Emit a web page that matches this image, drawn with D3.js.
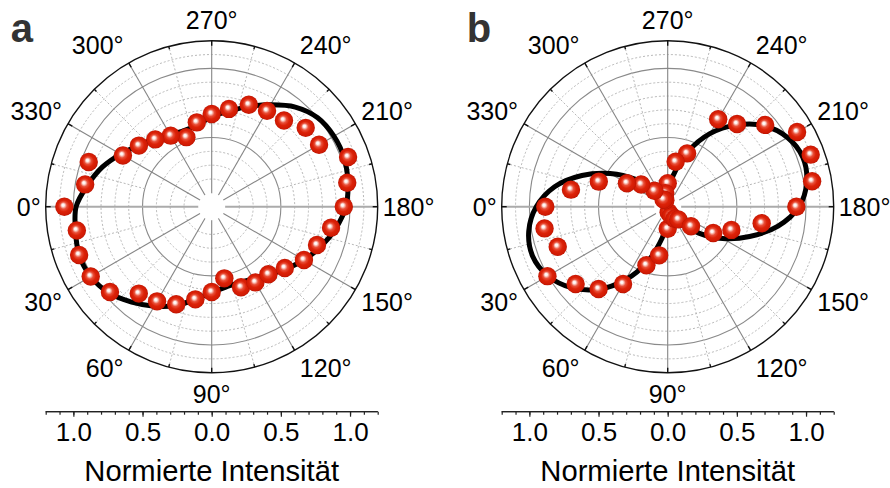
<!DOCTYPE html>
<html>
<head>
<meta charset="utf-8">
<script src="https://cdn.jsdelivr.net/npm/d3@7"></script>
<style>
  html, body { margin: 0; padding: 0; background: #fff; }
  svg { display: block; font-family: "Liberation Sans", Arial, Helvetica, sans-serif; }
</style>
</head>
<body>
<svg id="chart" width="890" height="488"></svg>
<script>
// ---------- data ----------
const angleTicks = [0, 30, 60, 90, 120, 150, 180, 210, 240, 270, 300, 330];
const angleTickLabels = ["0°", "30°", "60°", "90°", "120°", "150°", "180°", "210°", "240°", "270°", "300°", "330°"];
const radialTickValues = [-1.0, -0.5, 0.0, 0.5, 1.0];
const radialTickLabels = ["1.0", "0.5", "0.0", "0.5", "1.0"];
const panelLetters = ["a", "b"];
const axisTitle = "Normierte Intensität";

// measurement angles (degrees)
const dataAngles = [0, 10, 20, 30, 40, 50, 60, 70, 80, 90, 100, 110, 120, 130, 140, 150, 160, 170,
                    180, 190, 200, 210, 220, 230, 240, 250, 260, 270, 280, 290, 300, 310, 320, 330, 340, 350];

// panel a: measured normalised intensities
const dataA = [1.065, 0.99, 1.02, 1.01, 0.96, 0.82, 0.79, 0.75, 0.68, 0.617, 0.526, 0.62, 0.632, 0.638, 0.69, 0.77, 0.81, 0.876,
               0.955, 0.995, 1.049, 0.896, 0.887, 0.813, 0.80, 0.784, 0.718, 0.67, 0.619, 0.535, 0.593, 0.635, 0.687, 0.741, 0.946, 0.929];
// panel a: fitted curve
const fitA = [0.98, 1.00, 1.02, 1.01, 0.97, 0.90, 0.83, 0.76, 0.68, 0.62, 0.59, 0.585, 0.60, 0.64, 0.70, 0.77, 0.84, 0.91,
              0.97, 1.00, 1.02, 1.02, 1.00, 0.94, 0.85, 0.77, 0.70, 0.65, 0.60, 0.585, 0.60, 0.64, 0.69, 0.76, 0.84, 0.91];

// panel b: measured normalised intensities
const dataB = [0.885, 0.904, 0.846, 1.004, 0.869, 0.777, 0.645, 0.45, 0.357, 0.16, 0.04, 0.07, 0.10, 0.12, 0.22, 0.38, 0.49, 0.69,
               0.93, 1.06, 1.10, 1.08, 0.92, 0.78, 0.73, 0.41, 0.33, 0.17, 0.10, 0.05, 0.06, 0.15, 0.25, 0.34, 0.53, 0.71];
// panel b: fitted curve
const fitB = [0.95, 1.02, 1.04, 1.00, 0.91, 0.78, 0.61, 0.42, 0.23, 0.10, 0.02, 0.0, 0.05, 0.15, 0.30, 0.46, 0.63, 0.81,
              0.95, 1.02, 1.04, 1.00, 0.91, 0.77, 0.61, 0.42, 0.23, 0.10, 0.02, 0.0, 0.05, 0.15, 0.31, 0.48, 0.66, 0.83];

// ---------- layout ----------
const cy = 206.7, R = 166;
const panelCx = [211.7, 667.7];
const rScale = d3.scaleLinear().domain([0, 1.2]).range([0, R]);
// 0° at left (west), 90° at bottom, 180° right, 270° top  -> d3 angle (clockwise from north)
const aScale = d3.scaleLinear().domain([0, 360]).range([1.5 * Math.PI, -0.5 * Math.PI]);

const svg = d3.select("#chart");
const defs = svg.append("defs");
const grad = defs.append("radialGradient").attr("id", "ball")
  .attr("cx", "50%").attr("cy", "50%").attr("r", "50%").attr("fx", "42%").attr("fy", "40%");
[[0, "#ffffff"], [0.14, "#fff0ec"], [0.38, "#e8503a"], [0.62, "#dc2208"], [0.9, "#cf1a04"], [1, "#b81200"]].forEach(s =>
  grad.append("stop").attr("offset", s[0]).attr("stop-color", s[1]));

const panels = [
  { cx: panelCx[0], letter: panelLetters[0], data: dataA, fit: fitA },
  { cx: panelCx[1], letter: panelLetters[1], data: dataB, fit: fitB }
];

panels.forEach(p => {
  const g = svg.append("g").attr("transform", `translate(${p.cx},${cy})`);

  // dotted grid circles
  const dotted = [0.2, 0.3, 0.4, 0.6, 0.7, 0.8, 0.9, 1.1];
  g.selectAll("circle.dot").data(dotted).join("circle")
    .attr("r", d => rScale(d)).attr("fill", "none")
    .attr("stroke", "#b8b8b8").attr("stroke-width", 1).attr("stroke-dasharray", "2,2");
  // solid grid circles
  g.selectAll("circle.solid").data([0.5, 1.0]).join("circle")
    .attr("r", d => rScale(d)).attr("fill", "none")
    .attr("stroke", "#8a8a8a").attr("stroke-width", 1.1);

  // dotted spokes every 30° offset by 15°
  const minorSpokes = angleTicks.map(d => d + 15);
  g.selectAll("line.ms").data(minorSpokes).join("line")
    .attr("x1", d => d3.pointRadial(aScale(d), rScale(0.5))[0])
    .attr("y1", d => d3.pointRadial(aScale(d), rScale(0.5))[1])
    .attr("x2", d => d3.pointRadial(aScale(d), R)[0])
    .attr("y2", d => d3.pointRadial(aScale(d), R)[1])
    .attr("stroke", "#b8b8b8").attr("stroke-width", 1).attr("stroke-dasharray", "2,2");
  // solid spokes
  g.selectAll("line.sp").data(angleTicks).join("line")
    .attr("x1", 0).attr("y1", 0)
    .attr("x2", d => d3.pointRadial(aScale(d), R)[0])
    .attr("y2", d => d3.pointRadial(aScale(d), R)[1])
    .attr("stroke", d => (d % 180 === 0) ? "#ababab" : "#858585")
    .attr("stroke-width", d => (d % 180 === 0) ? 2 : 1.1);

  // central hole
  g.append("circle").attr("r", 13.5).attr("fill", "#fff");

  // outer circle
  g.append("circle").attr("r", R).attr("fill", "none").attr("stroke", "#111").attr("stroke-width", 1.4);
  // outer inward ticks
  const outerTicks = angleTicks.concat(minorSpokes);
  g.selectAll("line.ot").data(outerTicks).join("line")
    .attr("x1", d => d3.pointRadial(aScale(d), R)[0])
    .attr("y1", d => d3.pointRadial(aScale(d), R)[1])
    .attr("x2", d => d3.pointRadial(aScale(d), R - (d % 30 === 0 ? 5 : 3))[0])
    .attr("y2", d => d3.pointRadial(aScale(d), R - (d % 30 === 0 ? 5 : 3))[1])
    .attr("stroke", "#111").attr("stroke-width", 1.4);

  // angle labels
  const capH = 0.716 * 25;
  g.selectAll("text.al").data(angleTicks).join("text")
    .attr("font-size", 25).attr("fill", "#000")
    .each(function (d, i) {
      const t = d * Math.PI / 180;
      let ux = -Math.cos(t), uy = Math.sin(t);
      if (Math.abs(ux) < 1e-6) ux = 0;
      if (Math.abs(uy) < 1e-6) uy = 0;
      const dd = 5 + 7 * uy * uy;
      const px = (R + dd) * ux, py = (R + dd) * uy;
      const anchor = ux < 0 ? "end" : (ux > 0 ? "start" : "middle");
      const base = uy > 0 ? py + capH : (uy < 0 ? py : py + capH / 2);
      d3.select(this).attr("x", px).attr("y", base).attr("text-anchor", anchor)
        .text(angleTickLabels[i]);
    });

  // fit curve
  const fitPts = dataAngles.map((a, i) => [a, p.fit[i]]);
  const line = d3.lineRadial()
    .angle(d => aScale(d[0])).radius(d => rScale(d[1]))
    .curve(d3.curveCatmullRomClosed.alpha(0.5));
  g.append("path").datum(fitPts).attr("d", line)
    .attr("fill", "none").attr("stroke", "#000").attr("stroke-width", 5).attr("stroke-linejoin", "round");

  // data markers
  const pts = dataAngles.map((a, i) => [a, p.data[i]]);
  g.selectAll("circle.m").data(pts).join("circle")
    .attr("cx", d => d3.pointRadial(aScale(d[0]), rScale(d[1]))[0])
    .attr("cy", d => d3.pointRadial(aScale(d[0]), rScale(d[1]))[1])
    .attr("r", 9.2).attr("fill", "url(#ball)");

  // bottom linear axis
  const x = d3.scaleLinear().domain([-1.2, 1.2]).range([p.cx - R, p.cx + R]);
  const axY = 411.7;
  const minorVals = d3.range(-12, 13).map(k => k / 10);
  const axMinor = svg.append("g").attr("transform", `translate(0,${axY})`)
    .call(d3.axisBottom(x).tickValues(minorVals).tickSize(3).tickFormat(""));
  const axMajor = svg.append("g").attr("transform", `translate(0,${axY})`)
    .call(d3.axisBottom(x).tickValues(radialTickValues).tickSize(5).tickPadding(8)
      .tickFormat((d, i) => radialTickLabels[i]));
  [axMinor, axMajor].forEach(ax => {
    ax.select(".domain").attr("stroke", "#222").attr("stroke-width", 1.3).attr("d", `M${p.cx - R},0H${p.cx + R}`);
    ax.selectAll(".tick line").attr("stroke", "#222").attr("stroke-width", 1.2);
  });
  axMajor.selectAll(".tick text").attr("font-size", 26).attr("fill", "#000")
    .attr("font-family", "'Liberation Sans', Arial, sans-serif").attr("dy", 0).attr("y", 29.5);

  svg.append("text").attr("x", p.cx).attr("y", 481).attr("text-anchor", "middle")
    .attr("font-size", 29.2).attr("fill", "#000").text(axisTitle);

  svg.append("text").attr("x", p.cx - 201).attr("y", 41.5)
    .attr("font-size", 40).attr("font-weight", "bold").attr("fill", "#333").text(p.letter);
});
</script>
</body>
</html>
